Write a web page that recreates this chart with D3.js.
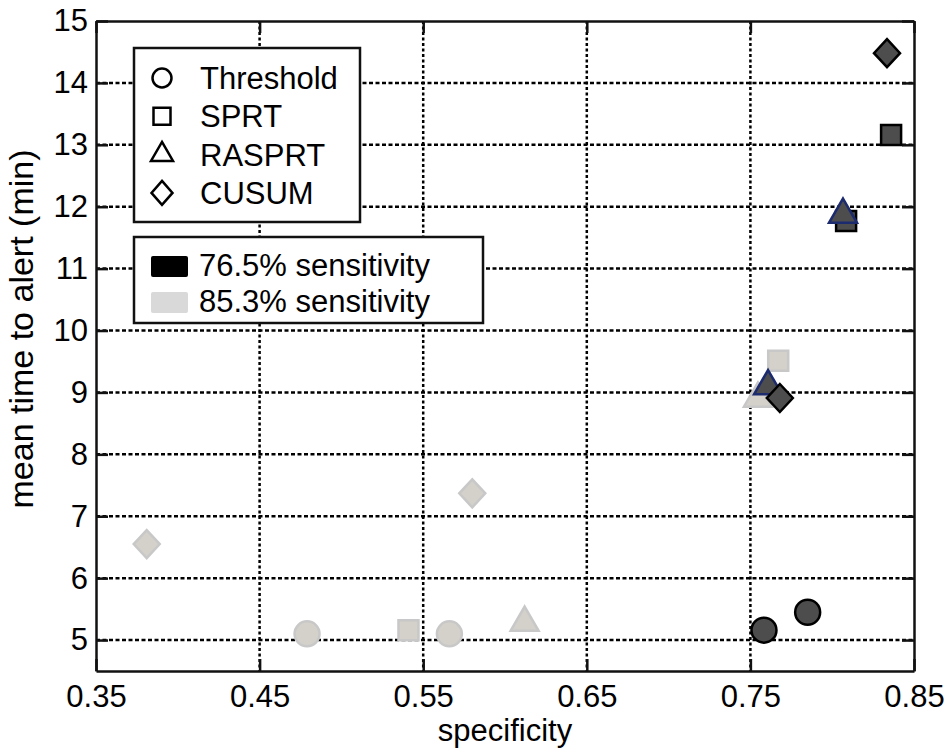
<!DOCTYPE html>
<html>
<head>
<meta charset="utf-8">
<style>
  html, body { margin: 0; padding: 0; background: #fff; }
  svg text { font-family: "Liberation Sans", Arial, sans-serif; fill: #000; }
</style>
</head>
<body>
<svg id="chart" width="948" height="752"></svg>
<script src="https://cdnjs.cloudflare.com/ajax/libs/d3/7.8.5/d3.min.js"></script>
<script>
// methods and their marker shapes
var methods = ['Threshold', 'SPRT', 'RASPRT', 'CUSUM'];
var groups = ['76.5% sensitivity', '85.3% sensitivity'];

// 85.3% sensitivity (light grey)
var lightPoints = [
  { method: 'CUSUM', spec: 0.381, time: 6.55 },
  { method: 'CUSUM', spec: 0.580, time: 7.37 },
  { method: 'Threshold', spec: 0.479, time: 5.10 },
  { method: 'SPRT', spec: 0.541, time: 5.16 },
  { method: 'Threshold', spec: 0.566, time: 5.10 },
  { method: 'RASPRT', spec: 0.612, time: 5.28 },
  { method: 'SPRT', spec: 0.767, time: 9.51 },
  { method: 'RASPRT', spec: 0.7546, time: 8.90 }
];

// 76.5% sensitivity (dark)
var darkPoints = [
  { method: 'Threshold', spec: 0.7583, time: 5.16 },
  { method: 'Threshold', spec: 0.785, time: 5.45 },
  { method: 'SPRT', spec: 0.8085, time: 11.77 },
  { method: 'SPRT', spec: 0.836, time: 13.16 },
  { method: 'RASPRT', spec: 0.8066, time: 11.87 },
  { method: 'RASPRT', spec: 0.7608, time: 9.10 },
  { method: 'CUSUM', spec: 0.768, time: 8.91 },
  { method: 'CUSUM', spec: 0.8335, time: 14.48 }
];

var xTicks = [0.35, 0.45, 0.55, 0.65, 0.75, 0.85];
var yTicks = [5, 6, 7, 8, 9, 10, 11, 12, 13, 14, 15];

var svg = d3.select('#chart');
var pLeft = 96, pRight = 914, pTop = 21, pBottom = 671;

var x = d3.scaleLinear().domain([0.35, 0.85]).range([pLeft, pRight]);
var y = d3.scaleLinear().domain([4.5, 15]).range([pBottom, pTop]);

// custom symbol types, sized by width in px
function circle(w) { return { draw: function(c) { c.arc(0, 0, w / 2, 0, 2 * Math.PI); } }; }
function square(w) { return { draw: function(c) { c.rect(-w / 2, -w / 2, w, w); } }; }
function triangle(w) {
  var h = w * Math.sqrt(3) / 2;
  return { draw: function(c) { c.moveTo(0, -h * 2 / 3); c.lineTo(w / 2, h / 3); c.lineTo(-w / 2, h / 3); c.closePath(); } };
}
function diamond(w, h) {
  return { draw: function(c) { c.moveTo(0, -h / 2); c.lineTo(w / 2, 0); c.lineTo(0, h / 2); c.lineTo(-w / 2, 0); c.closePath(); } };
}
var markerShape = {
  Threshold: circle(25), SPRT: square(20), RASPRT: triangle(28), CUSUM: diamond(26, 28)
};
var legendShape = {
  Threshold: circle(19), SPRT: square(17), RASPRT: triangle(22), CUSUM: diamond(21, 24)
};

// grid
var grid = svg.append('g');
grid.selectAll('line.v').data(xTicks.slice(1, -1)).enter().append('line')
  .attr('x1', function(d) { return x(d); }).attr('x2', function(d) { return x(d); })
  .attr('y1', pTop).attr('y2', pBottom)
  .attr('stroke', '#000').attr('stroke-width', 2.5).attr('stroke-dasharray', '3,2.5');
grid.selectAll('line.h').data(yTicks.slice(0, -1)).enter().append('line')
  .attr('x1', pLeft).attr('x2', pRight)
  .attr('y1', function(d) { return y(d); }).attr('y2', function(d) { return y(d); })
  .attr('stroke', '#000').attr('stroke-width', 2.5).attr('stroke-dasharray', '4,2.5');

// axes with inward ticks
function styleAxis(g) {
  g.select('.domain').attr('stroke', '#111').attr('stroke-width', 2.5);
  g.selectAll('.tick line').attr('stroke', '#111').attr('stroke-width', 2.5);
  g.selectAll('text').attr('font-size', 31).attr('font-family', '"Liberation Sans", Arial, sans-serif');
}
svg.append('g').attr('transform', 'translate(0,' + pBottom + ')')
  .call(d3.axisBottom(x).tickValues(xTicks).tickSizeInner(-12).tickSizeOuter(0).tickPadding(14).tickFormat(d3.format('.2f')))
  .call(styleAxis);
svg.append('g').attr('transform', 'translate(0,' + pTop + ')')
  .call(d3.axisTop(x).tickValues(xTicks).tickSizeInner(-12).tickSizeOuter(0).tickFormat(''))
  .call(styleAxis);
svg.append('g').attr('transform', 'translate(' + pLeft + ',0)')
  .call(d3.axisLeft(y).tickValues(yTicks).tickSizeInner(-12).tickSizeOuter(0).tickPadding(8))
  .call(styleAxis);
svg.append('g').attr('transform', 'translate(' + pRight + ',0)')
  .call(d3.axisRight(y).tickValues(yTicks).tickSizeInner(-12).tickSizeOuter(0).tickFormat(''))
  .call(styleAxis);

// axis titles
svg.append('text').attr('x', (pLeft + pRight) / 2).attr('y', 741).attr('text-anchor', 'middle')
  .attr('font-size', 31).text('specificity');
svg.append('text').attr('transform', 'translate(33,329) rotate(-90)')
  .attr('text-anchor', 'middle').attr('font-size', 34).text('mean time to alert (min)');

// points
function drawPoints(data, fill, stroke, blueTri) {
  svg.append('g').selectAll('path').data(data).enter().append('path')
    .attr('d', function(d) { return d3.symbol().type(markerShape[d.method])(); })
    .attr('transform', function(d) { return 'translate(' + x(d.spec) + ',' + y(d.time) + ')'; })
    .attr('fill', fill)
    .attr('stroke', function(d) { return (blueTri && d.method === 'RASPRT') ? '#1c2a6e' : stroke; })
    .attr('stroke-width', 2.5)
    .attr('stroke-linejoin', 'miter');
}
drawPoints(lightPoints, '#d4d1cb', '#c8c8c8', false);
var order = { Threshold: 0, SPRT: 1, RASPRT: 2, CUSUM: 3 };
drawPoints(darkPoints.slice().sort(function(a, b) { return order[a.method] - order[b.method]; }), '#4d4d4d', '#000', true);

// legend 1: markers
var leg1 = svg.append('g');
leg1.append('rect').attr('x', 134).attr('y', 48).attr('width', 226).attr('height', 174)
  .attr('fill', '#fff').attr('stroke', '#111').attr('stroke-width', 2.5);
var rows = leg1.selectAll('g.row').data(methods).enter().append('g')
  .attr('transform', function(d, i) { return 'translate(162,' + (78 + i * 38.3) + ')'; });
rows.append('path')
  .attr('d', function(d) { return d3.symbol().type(legendShape[d])(); })
  .attr('fill', 'none').attr('stroke', '#000').attr('stroke-width', 2.5);
rows.append('text').attr('x', 38).attr('y', 11).attr('font-size', 31).text(function(d) { return d; });

// legend 2: colour
var leg2 = svg.append('g');
leg2.append('rect').attr('x', 134).attr('y', 237).attr('width', 349).attr('height', 86)
  .attr('fill', '#fff').attr('stroke', '#111').attr('stroke-width', 2.5);
var colors = ['#000', '#d9d9d9'];
var rows2 = leg2.selectAll('g.row').data(groups).enter().append('g')
  .attr('transform', function(d, i) { return 'translate(151,' + (256 + i * 36) + ')'; });
rows2.append('rect').attr('width', 37).attr('height', 21).attr('rx', 2)
  .attr('fill', function(d, i) { return colors[i]; });
rows2.append('text').attr('x', 48).attr('y', 20).attr('font-size', 31).text(function(d) { return d; });
</script>
</body>
</html>
